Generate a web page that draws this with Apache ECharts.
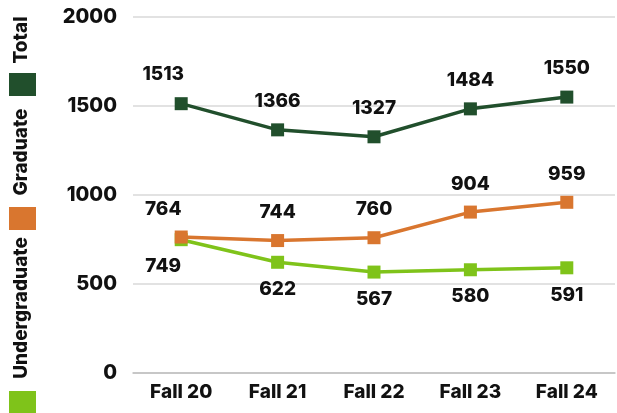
<!DOCTYPE html>
<html>
<head>
<meta charset="utf-8">
<script src="https://cdn.jsdelivr.net/npm/echarts@6/dist/echarts.min.js"></script>
<style>
  html, body { margin: 0; padding: 0; background: #fff; }
  #chart { width: 617px; height: 413px; }
</style>
</head>
<body>
<div id="chart"></div>
<script>
// enrollment by term, three series; legend drawn vertically on the left
var terms = ['Fall 20', 'Fall 21', 'Fall 22', 'Fall 23', 'Fall 24'];
var seriesNames = ['Total', 'Graduate', 'Undergraduate'];
var totalVals = [1513, 1366, 1327, 1484, 1550];
var gradVals = [764, 744, 760, 904, 959];
var undergradVals = [749, 622, 567, 580, 591];

var COLORS = ['#214f2c', '#d9762f', '#7fc31a'];
var FONT = 'Inter, "DejaVu Sans", sans-serif';
var WEIGHT = 800;

function buildData(vals) {
    var out = [];
    for (var i = 0; i < vals.length; i++) {
        var d = { value: vals[i] };
        if (i === 0) d.label = { offset: [-18, 0] };
        out.push(d);
    }
    return out;
}

function makeSeries(idx, vals, pos, dist) {
    return {
        name: seriesNames[idx],
        type: 'line',
        data: buildData(vals),
        symbol: 'rect',
        symbolSize: 13,
        lineStyle: { width: 3.5, color: COLORS[idx] },
        itemStyle: { color: COLORS[idx] },
        z: 10 - idx,
        label: {
            show: true,
            position: pos,
            distance: dist,
            color: '#111',
            fontFamily: FONT,
            fontWeight: WEIGHT,
            fontSize: 19
        }
    };
}

// legend: rotated labels with colour blocks underneath
var legendBoxes = [73, 207, 391];
var legendTextY = [40, 152, 308];
var graphics = [];
for (var k = 0; k < seriesNames.length; k++) {
    graphics.push({
        type: 'rect',
        shape: { x: 9, y: legendBoxes[k], width: 27, height: 23 },
        style: { fill: COLORS[k] }
    });
    graphics.push({
        type: 'text',
        x: 21,
        y: legendTextY[k],
        rotation: Math.PI / 2,
        style: {
            text: seriesNames[k],
            fill: '#111',
            font: WEIGHT + ' 19px ' + FONT,
            align: 'center',
            verticalAlign: 'middle'
        }
    });
}

var chart = echarts.init(document.getElementById('chart'), null, { renderer: 'canvas' });
chart.setOption({
    animation: false,
    grid: { left: 133, right: 2, top: 17, bottom: 40 },
    xAxis: {
        type: 'category',
        data: terms,
        boundaryGap: true,
        axisLine: { lineStyle: { color: '#bfbfbf', width: 1.5 } },
        axisTick: { show: false },
        axisLabel: {
            margin: 10,
            color: '#111',
            fontFamily: FONT,
            fontWeight: WEIGHT,
            fontSize: 19
        }
    },
    yAxis: {
        type: 'value',
        min: 0,
        max: 2000,
        interval: 500,
        axisLine: { show: false },
        axisTick: { show: false },
        splitLine: { lineStyle: { color: '#d9d9d9', width: 1.5 } },
        axisLabel: {
            margin: 16,
            color: '#111',
            fontFamily: FONT,
            fontWeight: WEIGHT,
            fontSize: 20,
            formatter: function (v) { return String(v); }
        }
    },
    graphic: graphics,
    series: [
        makeSeries(0, totalVals, 'top', 13),
        makeSeries(1, gradVals, 'top', 12),
        makeSeries(2, undergradVals, 'bottom', 11)
    ]
});
</script>
</body>
</html>
